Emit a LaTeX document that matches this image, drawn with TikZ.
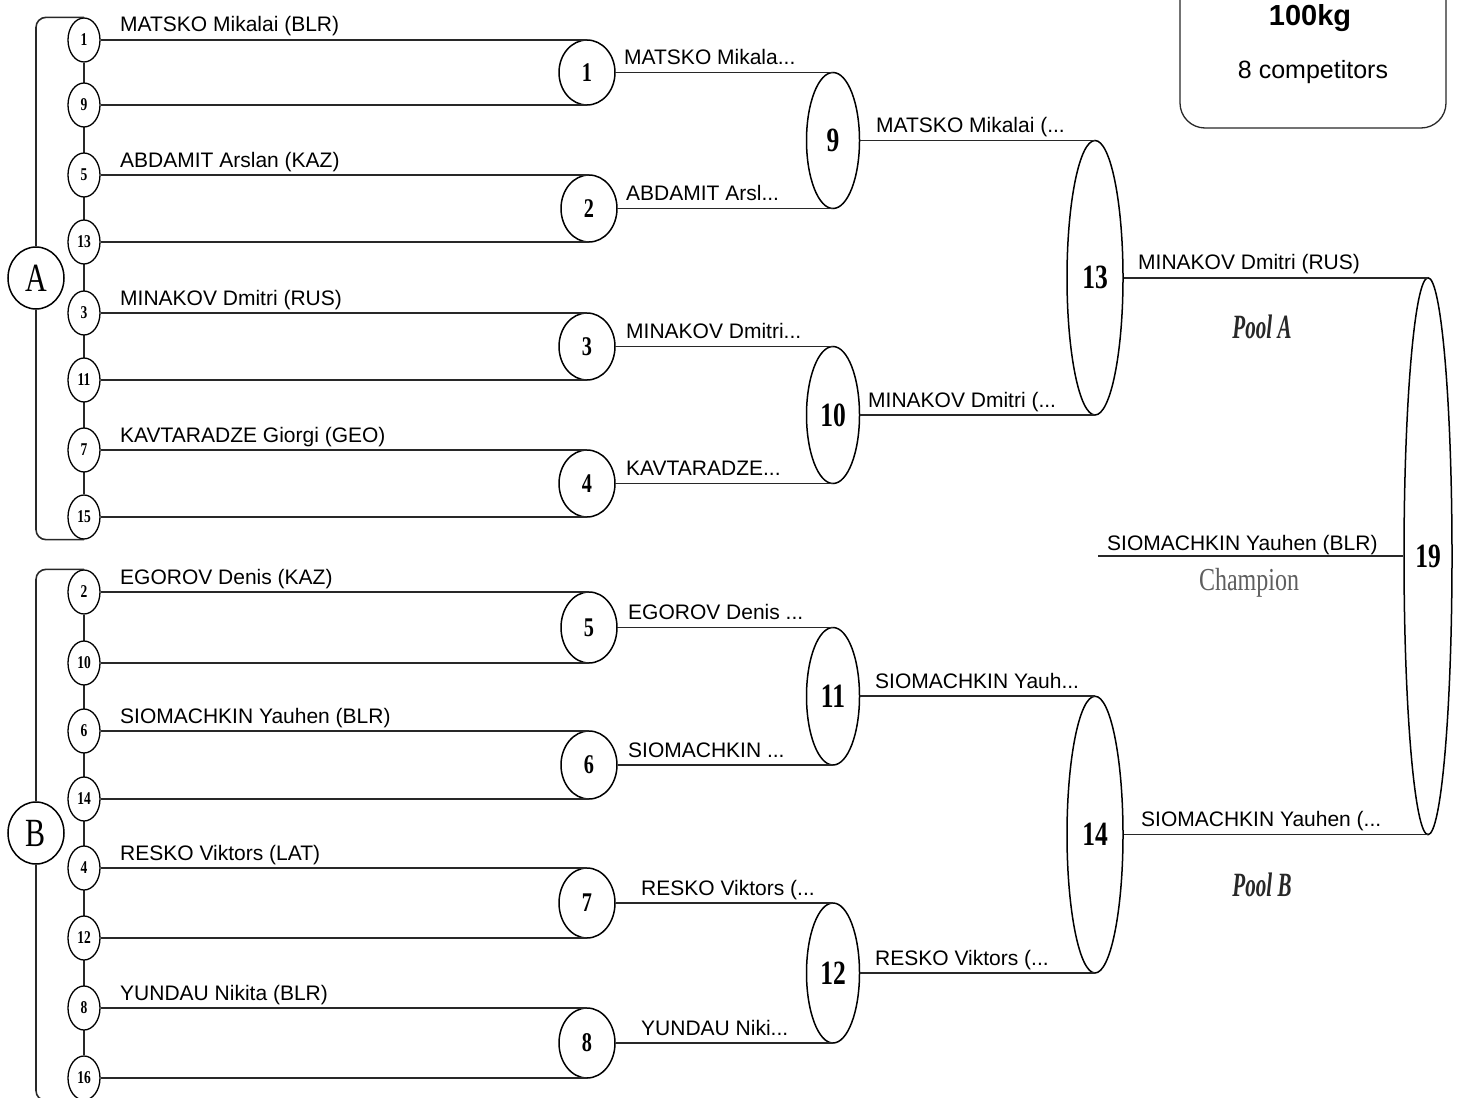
\documentclass[tikz,border=0pt]{standalone}
\usepackage{fontspec}
\usepackage{graphicx}
\setmainfont{Liberation Serif}
\setsansfont{Liberation Sans}
\usetikzlibrary{shapes.geometric, positioning, calc, backgrounds}
\definecolor{lineDark}{RGB}{40, 40, 40}
\definecolor{champGray}{RGB}{95, 95, 95}
\newcommand{\cond}[1]{\scalebox{0.75}[1]{#1}}

\begin{document}
\begin{tikzpicture}[x=1pt, y=-1pt,
		brk_seed/.style   = {draw, ellipse, line width=1.3pt, minimum width=32pt, minimum height=44pt,
			inner sep=0pt, fill=white, font=\fontsize{18}{18}\selectfont\bfseries},
		brk_pool/.style   = {draw, ellipse, line width=1.5pt, minimum width=56pt, minimum height=62pt,
			inner sep=0pt, fill=white, font=\fontsize{40}{40}\selectfont},
		brk_match/.style  = {draw, ellipse, line width=1.5pt, minimum width=56pt,
			inner sep=0pt, fill=white, font=\fontsize{27}{27}\selectfont\bfseries},
		brk_big/.style    = {brk_match, minimum width=53pt, font=\fontsize{34}{34}\selectfont\bfseries},
		brk_name/.style   = {anchor=base west, inner sep=0pt, font=\fontsize{21}{21}\selectfont\sffamily},
		line/.style       = {draw=lineDark, line width=1.6pt}
		]
		\useasboundingbox (0,0) rectangle (1466,1097);
		
		% seeds, pool A and pool B
		\foreach \s/\y in {1/40, 9/105, 5/175, 13/242, 3/313, 11/380, 7/450, 15/517,
			2/592, 10/663, 6/731, 14/799, 4/868, 12/938, 8/1008, 16/1078}
		\node[brk_seed] (s\s) at (84, \y) {\cond{\s}};
		\node[brk_pool] (poolA) at (36, 278) {\cond{A}};
		\node[brk_pool] (poolB) at (36, 833) {\cond{B}};
		
		% matches
		\node[brk_match, minimum height=65pt] (m1) at (587, 72.5) {\cond{1}};
		\node[brk_match, minimum height=67pt] (m2) at (589, 208.5) {\cond{2}};
		\node[brk_match, minimum height=67pt] (m3) at (587, 346.5) {\cond{3}};
		\node[brk_match, minimum height=67pt] (m4) at (587, 483.5) {\cond{4}};
		\node[brk_match, minimum height=71pt] (m5) at (589, 627.5) {\cond{5}};
		\node[brk_match, minimum height=68pt] (m6) at (589, 765) {\cond{6}};
		\node[brk_match, minimum height=70pt] (m7) at (587, 903) {\cond{7}};
		\node[brk_match, minimum height=70pt] (m8) at (587, 1043) {\cond{8}};
		\node[brk_big, minimum height=136pt] (m9) at (833, 140.5) {\cond{9}};
		\node[brk_big, minimum height=137pt] (m10) at (833, 415) {\cond{10}};
		\node[brk_big, minimum height=137.5pt] (m11) at (833, 696.25) {\cond{11}};
		\node[brk_big, minimum height=140pt] (m12) at (833, 973) {\cond{12}};
		\node[brk_big, minimum width=56pt, minimum height=274.5pt] (m13) at (1095, 277.75) {\cond{13}};
		\node[brk_big, minimum width=56pt, minimum height=276.75pt] (m14) at (1095, 834.6) {\cond{14}};
		\node[brk_big, minimum width=48pt, minimum height=556.9pt] (m19) at (1428, 556.2) {\cond{19}};
		
		\begin{scope}[on background layer]
			\draw[line] (s1) -- (s15);
			\draw[line] (s2) -- (s16);
		\end{scope}
		\draw[line, rounded corners=10pt] (s1.north) -| (poolA.north);
		\draw[line, rounded corners=10pt] (s15.south) -| (poolA.south);
		\draw[line, rounded corners=10pt] (s2.north) -| (poolB.north);
		\draw[line, rounded corners=10pt] (s16.south) -| (poolB.south);
		
		% first round lines
		\foreach \a/\b/\m in {1/9/1, 5/13/2, 3/11/3, 7/15/4, 2/10/5, 6/14/6, 4/12/7, 8/16/8}{
			\draw[line] (s\a.east) -- (s\a.east -| m\m);
			\draw[line] (s\b.east) -- (s\b.east -| m\m);
		}
		% later rounds
		\foreach \a/\b/\m in {1/2/9, 3/4/10, 5/6/11, 7/8/12, 9/10/13, 11/12/14, 13/14/19}{
			\draw[line] (m\a.east) -- (m\a.east -| m\m);
			\draw[line] (m\b.east) -- (m\b.east -| m\m);
		}
		\coordinate (champ) at (1098, 556.2);
		\draw[line] (champ) -- (m19.west);
		
		% names
		\node[brk_name] (n1) at (120, 32) {MATSKO Mikalai (BLR)};
		\node[brk_name] (n5) at (120, 167) {ABDAMIT Arslan (KAZ)};
		\node[brk_name] (n3) at (120, 305) {MINAKOV Dmitri (RUS)};
		\node[brk_name] (n7) at (120, 442) {KAVTARADZE Giorgi (GEO)};
		\node[brk_name] (n2) at (120, 584) {EGOROV Denis (KAZ)};
		\node[brk_name] (n6) at (120, 723) {SIOMACHKIN Yauhen (BLR)};
		\node[brk_name] (n4) at (120, 860) {RESKO Viktors (LAT)};
		\node[brk_name] (n8) at (120, 1000) {YUNDAU Nikita (BLR)};
		
		\node[brk_name] (w1) at (624, 64.5) {MATSKO Mikala...};
		\node[brk_name] (w2) at (626, 200.5) {ABDAMIT Arsl...};
		\node[brk_name] (w3) at (626, 338.5) {MINAKOV Dmitri...};
		\node[brk_name] (w4) at (626, 475.5) {KAVTARADZE...};
		\node[brk_name] (w5) at (628, 619.5) {EGOROV Denis ...};
		\node[brk_name] (w6) at (628, 757) {SIOMACHKIN ...};
		\node[brk_name] (w7) at (641, 895) {RESKO Viktors (...};
		\node[brk_name] (w8) at (641, 1035) {YUNDAU Niki...};
		\node[brk_name] (w9) at (876, 132.5) {MATSKO Mikalai (...};
		\node[brk_name] (w10) at (868, 407) {MINAKOV Dmitri (...};
		\node[brk_name] (w11) at (875, 688) {SIOMACHKIN Yauh...};
		\node[brk_name] (w12) at (875, 965) {RESKO Viktors (...};
		\node[brk_name] (w13) at (1138, 269.5) {MINAKOV Dmitri (RUS)};
		\node[brk_name] (w14) at (1141, 826.5) {SIOMACHKIN Yauhen (...};
		\node[brk_name] (w19) at (1107, 550) {SIOMACHKIN Yauhen (BLR)};
		
		\node[font=\fontsize{32}{32}\selectfont, text=champGray] (champion) at (1249, 583) {\cond{Champion}};
		\node[font=\fontsize{34}{34}\selectfont\bfseries\itshape, text=lineDark] (pA) at (1262, 327) {\scalebox{0.62}[1]{Pool A}};
		\node[font=\fontsize{34}{34}\selectfont\bfseries\itshape, text=lineDark] (pB) at (1262, 885) {\scalebox{0.62}[1]{Pool B}};
		
		% info box
		\node[draw=lineDark, line width=1.3pt, rounded corners=25pt, minimum width=266pt,
		minimum height=170pt] (info) at (1313, 43) {};
		\node[font=\fontsize{29}{29}\selectfont\sffamily\bfseries] (weight) at (1310, 18) {100kg};
		\node[font=\fontsize{25}{25}\selectfont\sffamily] (count) at (1313, 72) {8 competitors};
	\end{tikzpicture}
\end{document}
